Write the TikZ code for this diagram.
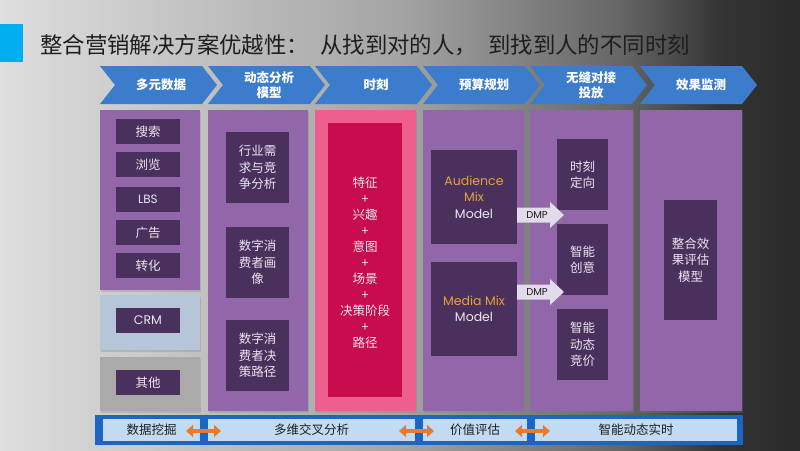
\documentclass[tikz,border=0pt]{standalone}
\usepackage{fontspec}
\setmainfont{Noto Sans CJK SC}
\newfontfamily\cjk{Noto Sans CJK SC}
\newfontfamily\lat{Poppins}
\usetikzlibrary{arrows.meta,shadows}
\definecolor{bgA}{HTML}{DEDEDE}
\definecolor{bgB}{HTML}{A4A4A4}
\definecolor{bgC}{HTML}{666666}
\definecolor{bgD}{HTML}{343434}
\definecolor{bgE}{HTML}{2A2A2A}
\definecolor{markc}{HTML}{00AEEF}
\definecolor{titlec}{HTML}{1E1E1E}
\definecolor{chevc}{HTML}{3B7DCC}
\definecolor{panelc}{HTML}{9167A9}
\definecolor{crmc}{HTML}{B6C5D8}
\definecolor{otherc}{HTML}{AAAAAA}
\definecolor{pinkc}{HTML}{EE5F8E}
\definecolor{pinkin}{HTML}{C80C4E}
\definecolor{iboxc}{HTML}{4A305C}
\definecolor{boxtxt}{HTML}{ECE6F0}
\definecolor{orangec}{HTML}{E6A23A}
\definecolor{dmpc}{HTML}{E2DBE9}
\definecolor{barc}{HTML}{1A66C2}
\definecolor{cellc}{HTML}{C2DAF2}
\definecolor{oarrc}{HTML}{EC7A2C}
\begin{document}
\begin{tikzpicture}[x=1pt,y=-1pt,
  panel/.style={fill=panelc, inner sep=0pt, outer sep=0pt,
    drop shadow={shadow xshift=1.2pt,shadow yshift=-1.5pt,opacity=.3}},
  ibox/.style={fill=iboxc, text=boxtxt, inner sep=0pt, outer sep=0pt, align=center,
    font=\cjk\fontsize{12.5}{16.5}\selectfont},
  chevtxt/.style={text=white, align=center, inner sep=0pt,
    font=\cjk\bfseries\fontsize{12.5}{15}\selectfont},
  cell/.style={fill=cellc, text=titlec, inner sep=0pt, outer sep=0pt,
    minimum height=22pt, font=\cjk\fontsize{12.5}{15}\selectfont},
  oarr/.style={draw=oarrc, line width=4pt,
    {Triangle[length=7pt,width=12pt]}-{Triangle[length=7pt,width=12pt]}},
  dmptxt/.style={text=titlec, inner sep=0pt, font=\lat\fontsize{10}{12}\selectfont},
  dmparrow/.style={fill=dmpc}
]
\useasboundingbox (0,0) rectangle (800,450);
% background
\fill[left color=bgA, right color=bgB] (0,0) rectangle (400,450);
\fill[left color=bgB, right color=bgC] (400,0) rectangle (620,450);
\fill[left color=bgC, right color=bgD] (620,0) rectangle (720,450);
\fill[left color=bgD, right color=bgE] (720,0) rectangle (800,450);
% title
\fill[markc] (0,24) rectangle (23,62);
\node[anchor=west, inner sep=0pt, text=titlec, font=\cjk\fontsize{22.4}{26}\selectfont]
  (title) at (40,45) {整合营销解决方案优越性：\hspace{11.2pt}从找到对的人，\hspace{11.2pt}到找到人的不同时刻};
% chevrons
\newcommand\mychev[3]{%
  \fill[chevc] (#1,66) -- ++(102,0) -- ++(15,19) -- ++(-15,19) -- ++(-102,0) -- ++(15,-19) -- cycle;
  \node[chevtxt] (#2) at (#1+61,85) {#3};}
\mychev{100}{h1}{多元数据}
\mychev{208}{h2}{动态分析\\模型}
\mychev{315}{h3}{时刻}
\mychev{423}{h4}{预算规划}
\mychev{530}{h5}{无缝对接\\投放}
\mychev{640}{h6}{效果监测}
% panels
\node[panel, minimum width=100pt, minimum height=180pt] (p1) at (150,200) {};
\node[panel, fill=crmc, minimum width=100pt, minimum height=55pt] (p1b) at (150,322.5) {};
\node[panel, fill=otherc, minimum width=100pt, minimum height=54pt] (p1c) at (150,384) {};
\node[panel, minimum width=100pt, minimum height=301pt] (p2) at (258,260.5) {};
\node[panel, fill=pinkc, minimum width=101pt, minimum height=301pt] (p3) at (365.5,260.5) {};
\node[panel, minimum width=101pt, minimum height=301pt] (p4) at (473.5,260.5) {};
\node[panel, minimum width=103pt, minimum height=301pt] (p5) at (581.5,260.5) {};
\node[panel, minimum width=102pt, minimum height=301pt] (p6) at (691,260.5) {};
% column 1
\node[ibox, minimum width=64pt, minimum height=25pt] (b11) at (148,131.5) {搜索};
\node[ibox, minimum width=64pt, minimum height=25pt] (b12) at (148,164.5) {浏览};
\node[ibox, minimum width=64pt, minimum height=25pt, font=\lat\fontsize{12}{14}\selectfont] (b13) at (148,199.5) {LBS};
\node[ibox, minimum width=64pt, minimum height=25pt] (b14) at (148,232.5) {广告};
\node[ibox, minimum width=64pt, minimum height=25pt] (b15) at (148,265.5) {转化};
\node[ibox, minimum width=64pt, minimum height=25pt, font=\lat\fontsize{12.5}{14}\selectfont] (b16) at (148,320.5) {CRM};
\node[ibox, minimum width=64pt, minimum height=25pt] (b17) at (148,382.5) {其他};
% column 2
\node[ibox, minimum width=63pt, minimum height=71pt] (b21) at (257.5,167.5) {行业需\\求与竞\\争分析};
\node[ibox, minimum width=63pt, minimum height=71pt] (b22) at (257.5,262.5) {数字消\\费者画\\像};
\node[ibox, minimum width=63pt, minimum height=71pt] (b23) at (257.5,355.5) {数字消\\费者决\\策路径};
% column 3
\node[ibox, fill=pinkin, minimum width=74pt, minimum height=274pt] (b3) at (365,260) {};
\node[text=boxtxt, align=center, inner sep=0pt, font=\cjk\fontsize{12.5}{16}\selectfont]
  (b3t) at (365,263) {特征\\+\\兴趣\\+\\意图\\+\\场景\\+\\决策阶段\\+\\路径};
% column 4
\node[ibox, minimum width=86pt, minimum height=94pt, font=\lat\fontsize{12.5}{16.5}\selectfont]
  (b41) at (474,197) {\textcolor{orangec}{Audience}\\\textcolor{orangec}{Mix}\\Model};
\node[ibox, minimum width=86pt, minimum height=94pt, font=\lat\fontsize{12.5}{16.5}\selectfont]
  (b42) at (474,309) {\textcolor{orangec}{Media Mix}\\Model};
% column 5
\node[ibox, minimum width=51pt, minimum height=71pt] (b51) at (582.5,174.5) {时刻\\定向};
\node[ibox, minimum width=51pt, minimum height=71pt] (b52) at (582.5,259.5) {智能\\创意};
\node[ibox, minimum width=51pt, minimum height=71pt] (b53) at (582.5,344.5) {智能\\动态\\竞价};
% column 6
\node[ibox, minimum width=53pt, minimum height=120pt] (b6) at (690.5,260) {整合效\\果评估\\模型};
% DMP arrows
\coordinate (d1) at (517,215);
\coordinate (d2) at (517,292);
\fill[dmparrow] (d1) ++(0,-7.5) -- ++(33,0) -- ++(0,-5.5) -- ++(14,13) -- ++(-14,13) -- ++(0,-5.5) -- ++(-33,0) -- cycle;
\node[dmptxt] (dmp1) at (537,215.5) {DMP};
\fill[dmparrow] (d2) ++(0,-7.5) -- ++(33,0) -- ++(0,-5.5) -- ++(14,13) -- ++(-14,13) -- ++(0,-5.5) -- ++(-33,0) -- cycle;
\node[dmptxt] (dmp2) at (537,292.5) {DMP};
% bottom bar
\node[fill=barc, inner sep=0pt, minimum width=648pt, minimum height=30pt] (bar) at (419,430) {};
\node[cell, minimum width=97pt] (c1) at (151.5,430) {数据挖掘};
\node[cell, minimum width=207pt] (c2) at (311.5,430) {多维交叉分析};
\node[cell, minimum width=104pt] (c3) at (475,430) {价值评估};
\node[cell, minimum width=202pt] (c4) at (636,430) {智能动态实时};
\draw[oarr] ([xshift=-14pt,yshift=-1pt]c1.east) -- ([xshift=13pt,yshift=-1pt]c2.west);
\draw[oarr] ([xshift=-16pt,yshift=-1pt]c2.east) -- ([xshift=11pt,yshift=-1pt]c3.west);
\draw[oarr] ([xshift=-12pt,yshift=-1pt]c3.east) -- ([xshift=15pt,yshift=-1pt]c4.west);
\end{tikzpicture}
\end{document}
